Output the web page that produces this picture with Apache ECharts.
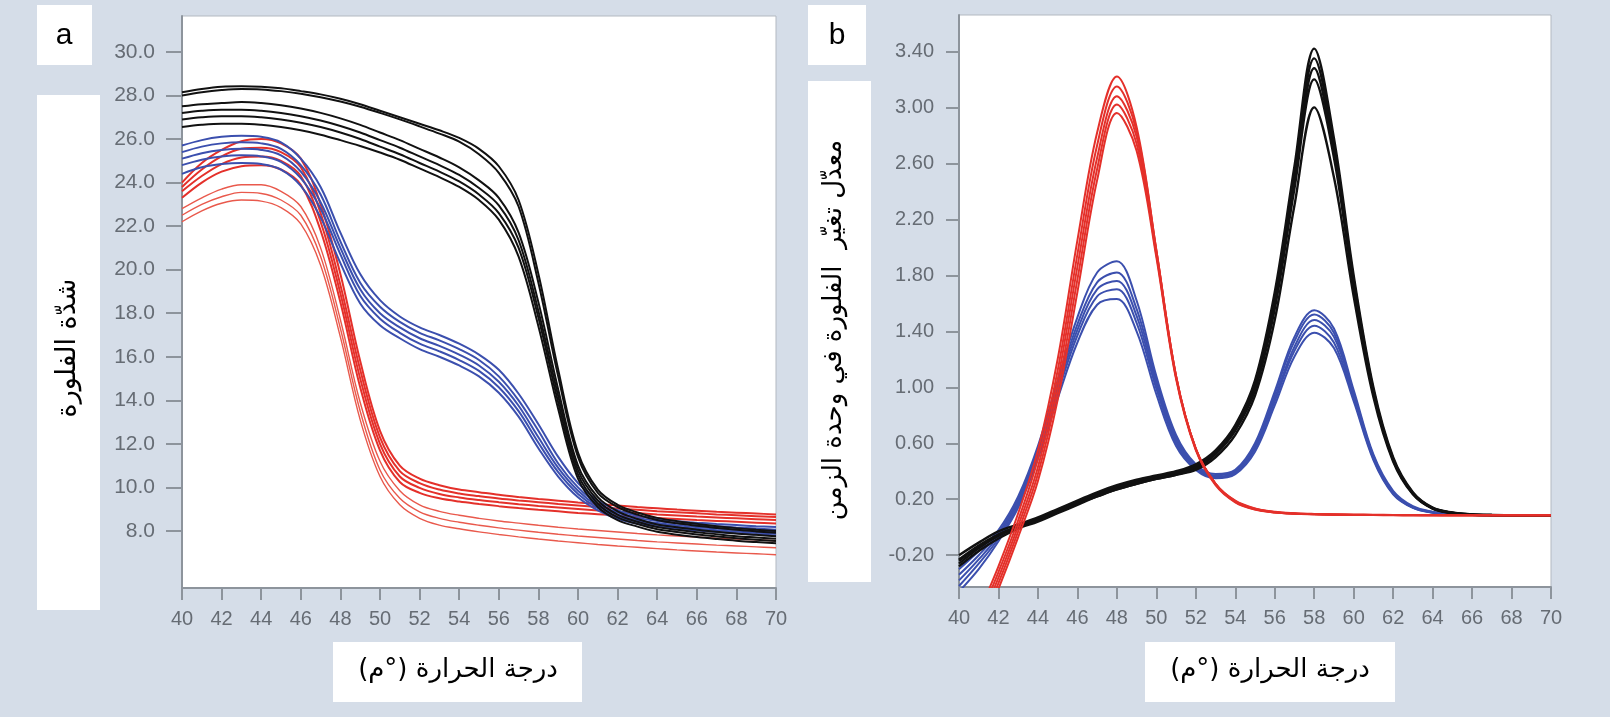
<!DOCTYPE html>
<html>
<head>
<meta charset="utf-8">
<script src="https://cdn.jsdelivr.net/npm/echarts@6/dist/echarts.min.js"></script>
<style>
html,body{margin:0;padding:0;background:#d5dde8;}
#chart{width:1610px;height:717px;}
</style>
</head>
<body>
<div id="chart"></div>
<script>
// ---------- DATA ----------
const temps = [40,41,42,43,44,45,46,47,48,49,50,51,52,53,54,55,56,57,58,59,60,61,62,63,64,65,66,67,68,69,70];
const xTicks = [40,42,44,46,48,50,52,54,56,58,60,62,64,66,68,70];
const leftYTicks = [8,10,12,14,16,18,20,22,24,26,28,30];
const rightYTicks = [-0.2,0.2,0.6,1.0,1.4,1.8,2.2,2.6,3.0,3.4];

// panel a : fluorescence intensity
const fluoBlack1 = [28.15,28.3,28.4,28.42,28.4,28.33,28.2,28.05,27.85,27.6,27.3,27.0,26.7,26.4,26.05,25.55,24.75,23.2,19.8,15.4,11.6,9.9,9.2,8.85,8.6,8.45,8.33,8.22,8.13,8.06,8.0];
const fluoBlack2 = [28.0,28.15,28.25,28.3,28.28,28.2,28.08,27.92,27.72,27.48,27.2,26.9,26.58,26.25,25.88,25.3,24.45,22.9,19.4,15.1,11.4,9.75,9.1,8.75,8.5,8.35,8.24,8.14,8.05,7.98,7.92];
const fluoBlack3 = [27.5,27.6,27.65,27.7,27.65,27.55,27.4,27.2,26.95,26.65,26.3,25.95,25.55,25.15,24.7,24.1,23.3,21.7,18.5,14.5,11.0,9.55,8.9,8.55,8.3,8.17,8.06,7.96,7.88,7.82,7.76];
const fluoBlack4 = [27.2,27.3,27.35,27.35,27.3,27.2,27.05,26.85,26.6,26.3,25.95,25.6,25.2,24.8,24.35,23.75,22.95,21.35,18.1,14.2,10.8,9.4,8.75,8.42,8.18,8.05,7.94,7.85,7.76,7.7,7.64];
const fluoBlack5 = [26.9,27.0,27.05,27.05,27.0,26.9,26.75,26.55,26.3,26.0,25.65,25.3,24.9,24.5,24.05,23.45,22.6,21.0,17.8,13.9,10.6,9.25,8.62,8.32,8.08,7.95,7.84,7.75,7.66,7.6,7.54];
const fluoBlack6 = [26.55,26.65,26.7,26.7,26.65,26.55,26.4,26.2,25.95,25.68,25.38,25.05,24.65,24.25,23.8,23.2,22.3,20.6,17.4,13.6,10.4,9.1,8.5,8.2,7.96,7.83,7.72,7.63,7.55,7.49,7.43];

const fluoBlue1 = [25.7,25.95,26.1,26.15,26.1,25.85,25.1,23.8,21.7,19.8,18.6,17.85,17.35,17.0,16.6,16.1,15.4,14.3,12.9,11.4,10.2,9.4,8.95,8.7,8.55,8.45,8.38,8.32,8.27,8.22,8.18];
const fluoBlue2 = [25.4,25.65,25.8,25.85,25.8,25.55,24.8,23.45,21.3,19.4,18.3,17.6,17.1,16.75,16.35,15.85,15.1,14.0,12.6,11.1,10.0,9.25,8.85,8.6,8.46,8.36,8.28,8.22,8.16,8.11,8.06];
const fluoBlue3 = [25.1,25.35,25.5,25.55,25.5,25.25,24.5,23.1,21.0,19.1,18.0,17.35,16.85,16.5,16.1,15.6,14.85,13.75,12.3,10.9,9.85,9.15,8.75,8.5,8.36,8.26,8.18,8.11,8.05,8.0,7.95];
const fluoBlue4 = [24.8,25.05,25.2,25.25,25.2,24.95,24.2,22.8,20.7,18.8,17.75,17.1,16.6,16.25,15.85,15.35,14.6,13.5,12.05,10.7,9.7,9.05,8.65,8.42,8.28,8.18,8.1,8.03,7.97,7.92,7.87];
const fluoBlue5 = [24.4,24.7,24.85,24.9,24.85,24.6,23.85,22.4,20.3,18.45,17.45,16.85,16.35,16.0,15.6,15.1,14.35,13.25,11.8,10.5,9.55,8.95,8.56,8.33,8.2,8.1,8.02,7.95,7.89,7.84,7.79];

const fluoRed1 = [24.0,24.9,25.5,25.9,26.0,25.8,25.1,23.0,19.8,15.8,12.6,11.0,10.4,10.1,9.9,9.78,9.66,9.56,9.47,9.39,9.31,9.24,9.17,9.1,9.04,8.98,8.93,8.88,8.84,8.8,8.76];
const fluoRed2 = [23.8,24.6,25.2,25.55,25.6,25.4,24.7,22.6,19.3,15.4,12.3,10.75,10.2,9.9,9.72,9.6,9.49,9.4,9.32,9.24,9.17,9.1,9.03,8.97,8.91,8.86,8.81,8.76,8.72,8.68,8.64];
const fluoRed3 = [23.6,24.3,24.85,25.15,25.2,25.0,24.3,22.2,18.9,15.0,12.0,10.5,9.98,9.7,9.54,9.42,9.32,9.23,9.15,9.08,9.01,8.94,8.88,8.82,8.76,8.71,8.66,8.62,8.58,8.54,8.5];
const fluoRed4 = [23.3,24.0,24.5,24.75,24.8,24.6,23.9,21.8,18.5,14.6,11.7,10.25,9.75,9.5,9.35,9.24,9.14,9.05,8.97,8.9,8.83,8.77,8.71,8.65,8.6,8.55,8.5,8.46,8.42,8.38,8.34];
const fluoRed5 = [22.8,23.3,23.7,23.9,23.9,23.6,22.9,21.0,17.7,13.9,11.2,9.85,9.2,8.9,8.72,8.58,8.46,8.36,8.26,8.17,8.09,8.02,7.95,7.88,7.82,7.77,7.72,7.67,7.63,7.59,7.55];
const fluoRed6 = [22.5,23.0,23.35,23.55,23.5,23.2,22.5,20.6,17.3,13.5,10.8,9.5,8.88,8.58,8.4,8.26,8.14,8.04,7.94,7.85,7.77,7.7,7.63,7.56,7.5,7.45,7.4,7.35,7.31,7.27,7.23];
const fluoRed7 = [22.2,22.7,23.05,23.2,23.15,22.85,22.1,20.2,16.9,13.1,10.5,9.2,8.58,8.27,8.1,7.96,7.84,7.73,7.63,7.54,7.46,7.38,7.31,7.25,7.19,7.13,7.08,7.03,6.99,6.95,6.91];

// panel b : rate of change of fluorescence
const dRed1 = [-1.0,-0.62,-0.28,0.1,0.55,1.2,2.05,2.82,3.22,2.86,1.98,1.08,0.56,0.31,0.19,0.135,0.11,0.1,0.095,0.092,0.09,0.089,0.088,0.087,0.087,0.086,0.086,0.085,0.085,0.085,0.085];
const dRed2 = [-1.02,-0.66,-0.32,0.05,0.49,1.12,1.95,2.73,3.15,2.83,1.98,1.08,0.56,0.31,0.187,0.132,0.108,0.099,0.094,0.091,0.089,0.088,0.087,0.087,0.086,0.086,0.085,0.085,0.085,0.085,0.085];
const dRed3 = [-1.04,-0.7,-0.36,0.01,0.43,1.05,1.86,2.64,3.08,2.79,1.97,1.08,0.56,0.31,0.184,0.13,0.107,0.098,0.093,0.09,0.089,0.088,0.087,0.086,0.086,0.085,0.085,0.085,0.085,0.085,0.085];
const dRed4 = [-1.06,-0.74,-0.4,-0.03,0.38,0.98,1.77,2.56,3.02,2.74,1.95,1.07,0.56,0.31,0.181,0.128,0.106,0.097,0.093,0.09,0.088,0.087,0.087,0.086,0.086,0.085,0.085,0.085,0.085,0.085,0.085];
const dRed5 = [-1.08,-0.78,-0.44,-0.07,0.33,0.91,1.68,2.48,2.96,2.69,1.93,1.06,0.55,0.3,0.178,0.126,0.105,0.096,0.092,0.089,0.088,0.087,0.086,0.086,0.085,0.085,0.085,0.085,0.085,0.085,0.085];

const dBlue1 = [-0.3,-0.17,-0.02,0.22,0.58,1.05,1.5,1.82,1.9,1.62,1.08,0.66,0.45,0.38,0.41,0.6,0.97,1.36,1.55,1.42,0.98,0.52,0.26,0.15,0.11,0.095,0.09,0.087,0.086,0.085,0.085];
const dBlue2 = [-0.34,-0.2,-0.04,0.2,0.56,1.02,1.45,1.75,1.82,1.56,1.05,0.64,0.44,0.37,0.4,0.58,0.95,1.33,1.52,1.39,0.96,0.51,0.25,0.145,0.108,0.094,0.089,0.087,0.086,0.085,0.085];
const dBlue3 = [-0.38,-0.23,-0.06,0.18,0.54,0.99,1.41,1.7,1.76,1.51,1.02,0.62,0.43,0.36,0.39,0.57,0.92,1.29,1.48,1.36,0.94,0.5,0.245,0.142,0.106,0.093,0.088,0.086,0.085,0.085,0.085];
const dBlue4 = [-0.42,-0.26,-0.08,0.16,0.52,0.96,1.37,1.65,1.7,1.46,0.99,0.6,0.42,0.355,0.385,0.56,0.9,1.26,1.44,1.32,0.92,0.49,0.24,0.14,0.105,0.092,0.088,0.086,0.085,0.085,0.085];
const dBlue5 = [-0.46,-0.3,-0.1,0.14,0.49,0.92,1.32,1.59,1.63,1.4,0.95,0.58,0.41,0.35,0.38,0.54,0.87,1.22,1.39,1.28,0.9,0.48,0.235,0.138,0.104,0.092,0.087,0.086,0.085,0.085,0.085];

const dBlack1 = [-0.2,-0.11,-0.03,0.02,0.07,0.13,0.19,0.25,0.3,0.34,0.37,0.4,0.45,0.55,0.73,1.05,1.68,2.58,3.42,2.78,1.8,1.0,0.5,0.25,0.14,0.105,0.092,0.088,0.086,0.085,0.085];
const dBlack2 = [-0.23,-0.13,-0.05,0.01,0.06,0.12,0.18,0.24,0.29,0.33,0.36,0.39,0.44,0.54,0.72,1.03,1.64,2.52,3.35,2.73,1.77,0.98,0.49,0.245,0.138,0.104,0.091,0.087,0.086,0.085,0.085];
const dBlack3 = [-0.26,-0.15,-0.06,0.0,0.05,0.11,0.17,0.23,0.28,0.32,0.355,0.385,0.43,0.53,0.7,1.0,1.6,2.47,3.28,2.68,1.74,0.97,0.485,0.242,0.136,0.103,0.09,0.087,0.086,0.085,0.085];
const dBlack4 = [-0.28,-0.17,-0.08,-0.01,0.04,0.1,0.16,0.22,0.27,0.31,0.345,0.375,0.42,0.52,0.69,0.98,1.56,2.42,3.2,2.64,1.72,0.96,0.48,0.24,0.135,0.102,0.09,0.086,0.085,0.085,0.085];
const dBlack5 = [-0.24,-0.14,-0.06,0.0,0.05,0.11,0.17,0.22,0.27,0.31,0.345,0.375,0.41,0.5,0.66,0.94,1.48,2.3,3.0,2.5,1.65,0.93,0.47,0.235,0.132,0.1,0.089,0.086,0.085,0.085,0.085];

// texts
const labelA = 'a';
const labelB = 'b';
const xTitle = 'درجة الحرارة (°م)';
const leftYTitle = 'شدّة الفلورة';
const rightYTitle = 'معدّل تغيّر  الفلورة في وحدة الزمن';

// ---------- CHART ----------
const BLACK = '#111111', BLUE = '#3b4fae', RED = '#e4302a', RED_LIGHT = '#e9594c';
const AXIS = '#8d949c';
const LABEL = '#666c74';
const rtl = s => '\u200F' + s + '\u200F';
const pairs = vals => temps.map((t, i) => [t, vals[i]]);

function line(vals, color, idx, width) {
  return {
    type: 'line', xAxisIndex: idx, yAxisIndex: idx, data: pairs(vals),
    symbol: 'none', smooth: 0.35, clip: true, silent: true,
    lineStyle: {color: color, width: width || 2}
  };
}

function xAxisCfg(idx) {
  return {
    type: 'value', gridIndex: idx, min: 40, max: 70, interval: 2,
    axisLine: {show: true, onZero: false, lineStyle: {color: AXIS, width: 2}},
    axisTick: {show: true, length: 12, lineStyle: {color: AXIS, width: 2}},
    axisLabel: {show: true, margin: 21, fontSize: 20, color: LABEL, fontFamily: 'Liberation Sans, Arial, sans-serif'},
    splitLine: {show: false}
  };
}

const chart = echarts.init(document.getElementById('chart'), null, {renderer: 'canvas'});
const option = {
  animation: false,
  backgroundColor: '#d5dde8',
  grid: [
    {left: 182, top: 16, width: 594, height: 572, show: true, backgroundColor: '#ffffff', borderColor: '#b3b9c1', borderWidth: 1},
    {left: 959, top: 15, width: 592, height: 572, show: true, backgroundColor: '#ffffff', borderColor: '#b3b9c1', borderWidth: 1}
  ],
  xAxis: [xAxisCfg(0), xAxisCfg(1)],
  yAxis: [
    {
      type: 'value', gridIndex: 0, min: 5.38, max: 31.65,
      axisLine: {show: true, onZero: false, lineStyle: {color: AXIS, width: 2}},
      axisTick: {show: true, customValues: leftYTicks, length: 16, lineStyle: {color: AXIS, width: 2}},
      axisLabel: {show: true, customValues: leftYTicks, formatter: v => Number(v).toFixed(1), margin: 27, fontSize: 21, color: LABEL, fontFamily: 'Liberation Sans, Arial, sans-serif'},
      splitLine: {show: false}
    },
    {
      type: 'value', gridIndex: 1, min: -0.427, max: 3.66,
      axisLine: {show: true, onZero: false, lineStyle: {color: AXIS, width: 2}},
      axisTick: {show: true, customValues: rightYTicks, length: 13, lineStyle: {color: AXIS, width: 2}},
      axisLabel: {show: true, customValues: rightYTicks, formatter: v => Number(v).toFixed(2), margin: 25, fontSize: 20, color: LABEL, fontFamily: 'Liberation Sans, Arial, sans-serif'},
      splitLine: {show: false}
    }
  ],
  series: [
    line(fluoRed7, RED_LIGHT, 0, 1.4), line(fluoRed6, RED_LIGHT, 0, 1.4), line(fluoRed5, RED_LIGHT, 0, 1.4),
    line(fluoRed4, RED, 0), line(fluoRed3, RED, 0), line(fluoRed2, RED, 0), line(fluoRed1, RED, 0),
    line(fluoBlue5, BLUE, 0), line(fluoBlue4, BLUE, 0), line(fluoBlue3, BLUE, 0), line(fluoBlue2, BLUE, 0), line(fluoBlue1, BLUE, 0),
    line(fluoBlack6, BLACK, 0), line(fluoBlack5, BLACK, 0), line(fluoBlack4, BLACK, 0), line(fluoBlack3, BLACK, 0), line(fluoBlack2, BLACK, 0), line(fluoBlack1, BLACK, 0),

    line(dBlue5, BLUE, 1), line(dBlue4, BLUE, 1), line(dBlue3, BLUE, 1), line(dBlue2, BLUE, 1), line(dBlue1, BLUE, 1),
    line(dBlack5, BLACK, 1, 2.4), line(dBlack4, BLACK, 1, 2.4), line(dBlack3, BLACK, 1, 2.4), line(dBlack2, BLACK, 1, 2.4), line(dBlack1, BLACK, 1, 2.4),
    line(dRed5, RED, 1), line(dRed4, RED, 1), line(dRed3, RED, 1), line(dRed2, RED, 1), line(dRed1, RED, 1)
  ],
  graphic: {
    elements: [
      {type: 'rect', shape: {x: 37, y: 5, width: 55, height: 60}, style: {fill: '#ffffff'}},
      {type: 'text', x: 64, y: 36, style: {text: labelA, fontSize: 30, fontFamily: 'Liberation Sans, Arial, sans-serif', fill: '#000', align: 'center', verticalAlign: 'middle', textAlign: 'center', textVerticalAlign: 'middle'}},
      {type: 'rect', shape: {x: 37, y: 95, width: 63, height: 515}, style: {fill: '#ffffff'}},
      {type: 'text', x: 68, y: 348, rotation: Math.PI / 2, style: {text: rtl(leftYTitle), fontSize: 27, fontFamily: 'DejaVu Sans, sans-serif', fill: '#000', align: 'center', verticalAlign: 'middle', textAlign: 'center', textVerticalAlign: 'middle'}},
      {type: 'rect', shape: {x: 333, y: 642, width: 249, height: 60}, style: {fill: '#ffffff'}},
      {type: 'text', x: 458, y: 670, style: {text: rtl(xTitle), fontSize: 26, fontFamily: 'DejaVu Sans, sans-serif', fill: '#000', align: 'center', verticalAlign: 'middle', textAlign: 'center', textVerticalAlign: 'middle'}},

      {type: 'rect', shape: {x: 808, y: 5, width: 58, height: 60}, style: {fill: '#ffffff'}},
      {type: 'text', x: 837, y: 36, style: {text: labelB, fontSize: 30, fontFamily: 'Liberation Sans, Arial, sans-serif', fill: '#000', align: 'center', verticalAlign: 'middle', textAlign: 'center', textVerticalAlign: 'middle'}},
      {type: 'rect', shape: {x: 808, y: 81, width: 63, height: 501}, style: {fill: '#ffffff'}},
      {type: 'text', x: 834, y: 330, rotation: Math.PI / 2, style: {text: rtl(rightYTitle), fontSize: 26, fontFamily: 'DejaVu Sans, sans-serif', fill: '#000', align: 'center', verticalAlign: 'middle', textAlign: 'center', textVerticalAlign: 'middle'}},
      {type: 'rect', shape: {x: 1145, y: 642, width: 250, height: 60}, style: {fill: '#ffffff'}},
      {type: 'text', x: 1270, y: 670, style: {text: rtl(xTitle), fontSize: 26, fontFamily: 'DejaVu Sans, sans-serif', fill: '#000', align: 'center', verticalAlign: 'middle', textAlign: 'center', textVerticalAlign: 'middle'}}
    ]
  }
};
chart.setOption(option);
</script>
</body>
</html>
